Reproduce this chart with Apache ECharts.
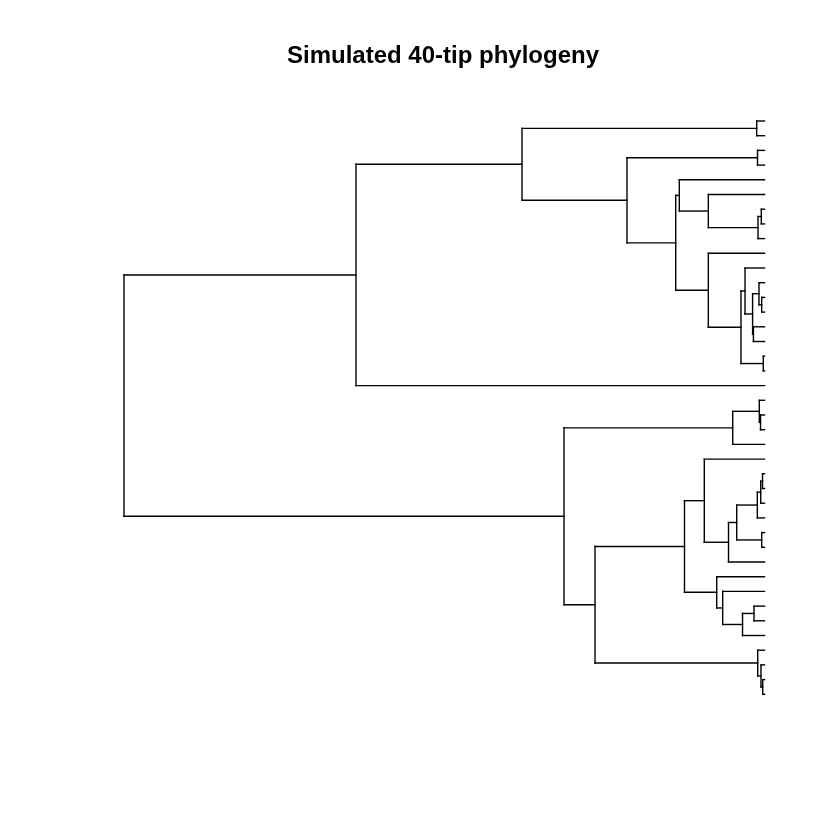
<!DOCTYPE html>
<html>
<head>
<meta charset="utf-8">
<title>Simulated 40-tip phylogeny</title>
<script src="https://cdn.jsdelivr.net/npm/echarts@6/dist/echarts.min.js"></script>
<style>
  html, body { margin: 0; padding: 0; background: #fff; }
  #chart { width: 840px; height: 840px; }
</style>
</head>
<body>
<div id="chart"></div>
<script>
// tree: every internal node, its depth (root = 0, tips = 1)
// and its two children listed top to bottom. Tips are t1..t40.
const nodeNames = [
  'root', 'U', 'V', 'P01', 'W', 'P23', 'A', 'B', 'C', 'D', 'E', 'F', 'G', 'H', 'I', 'J', 'J2', 'K', 'L',
  'Lw', 'M', 'Q', 'Q2', 'N', 'O', 'S', 'S2', 'S3', 'S5', 'S7', 'S7b', 'S6', 'T', 'T2', 'T3', 'T4', 'R', 'R2', 'R3'
]
const nodeDepths = [
  0, 0.3622, 0.6214, 0.9878, 0.7853, 0.9891, 0.8614, 0.8670, 0.9123, 0.9899, 0.9950, 0.9123, 0.9633, 0.9696,
  0.9814, 0.9914, 0.9956, 0.9827, 0.9981,
  0.6870, 0.9504, 0.9919, 0.9938, 0.7354, 0.8751, 0.9060, 0.9438, 0.9566, 0.9888, 0.9941, 0.9969, 0.9956,
  0.9254, 0.9347, 0.9657, 0.9836, 0.9894, 0.9945, 0.9972
]
const nodeChildren = [
  ['U', 'Lw'], ['V', 't19'], ['P01', 'W'], ['t1', 't2'], ['P23', 'A'], ['t3', 't4'], ['B', 'F'], ['t5', 'C'],
  ['t6', 'D'], ['E', 't9'], ['t7', 't8'], ['t10', 'G'], ['H', 'L'], ['t11', 'I'], ['J', 'K'], ['t12', 'J2'],
  ['t13', 't14'], ['t15', 't16'], ['t17', 't18'],
  ['M', 'N'], ['Q', 't23'], ['t20', 'Q2'], ['t21', 't22'], ['O', 'R'], ['S', 'T'], ['t24', 'S2'], ['S3', 't31'],
  ['S5', 'S6'], ['S7', 't28'], ['S7b', 't27'], ['t25', 't26'], ['t29', 't30'], ['t32', 'T2'], ['t33', 'T3'],
  ['T4', 't36'], ['t34', 't35'], ['t37', 'R2'], ['t38', 'R3'], ['t39', 't40']
]
const tipDepth = 1

// 树的布局：叶子按遍历顺序排列，内部节点取子节点的平均高度
let nodeIndex = {}
nodeNames.forEach((n, i) => { nodeIndex[n] = i })

let tipCount = 0
let segments = []

let layout = (name) => {
  if (!(name in nodeIndex)) {
    // tip
    return { x: tipDepth, y: tipCount++ }
  }
  let i = nodeIndex[name]
  let x = nodeDepths[i]
  let kids = nodeChildren[i].map(layout)
  let ys = kids.map(k => k.y)
  let y = ys.reduce((a, b) => a + b, 0) / ys.length
  // vertical bar of the node
  segments.push([x, Math.min(...ys), x, Math.max(...ys)])
  // edges to the children
  kids.forEach(k => {
    segments.push([x, k.y, k.x, k.y])
  })
  return { x, y }
}
layout('root')

let chart = echarts.init(document.getElementById('chart'))
chart.setOption({
  animation: false,
  backgroundColor: '#fff',
  title: {
    text: 'Simulated 40-tip phylogeny',
    left: 438,
    top: 39,
    textAlign: 'center',
    textStyle: {
      fontFamily: 'Liberation Sans',
      fontWeight: 'bold',
      fontSize: 24,
      color: '#000'
    }
  },
  grid: { left: 124, right: 75.5, top: 121, bottom: 145.7 },
  xAxis: { type: 'value', min: 0, max: tipDepth, show: false },
  yAxis: { type: 'value', min: 0, max: tipCount - 1, inverse: true, show: false },
  series: [{
    type: 'custom',
    silent: true,
    clip: false,
    data: segments,
    renderItem: (params, api) => {
      let p1 = api.coord([api.value(0), api.value(1)])
      let p2 = api.coord([api.value(2), api.value(3)])
      return {
        type: 'line',
        shape: { x1: p1[0], y1: p1[1], x2: p2[0], y2: p2[1] },
        style: { stroke: '#000', lineWidth: 1.4, lineCap: 'square' }
      }
    }
  }]
})
</script>
</body>
</html>
